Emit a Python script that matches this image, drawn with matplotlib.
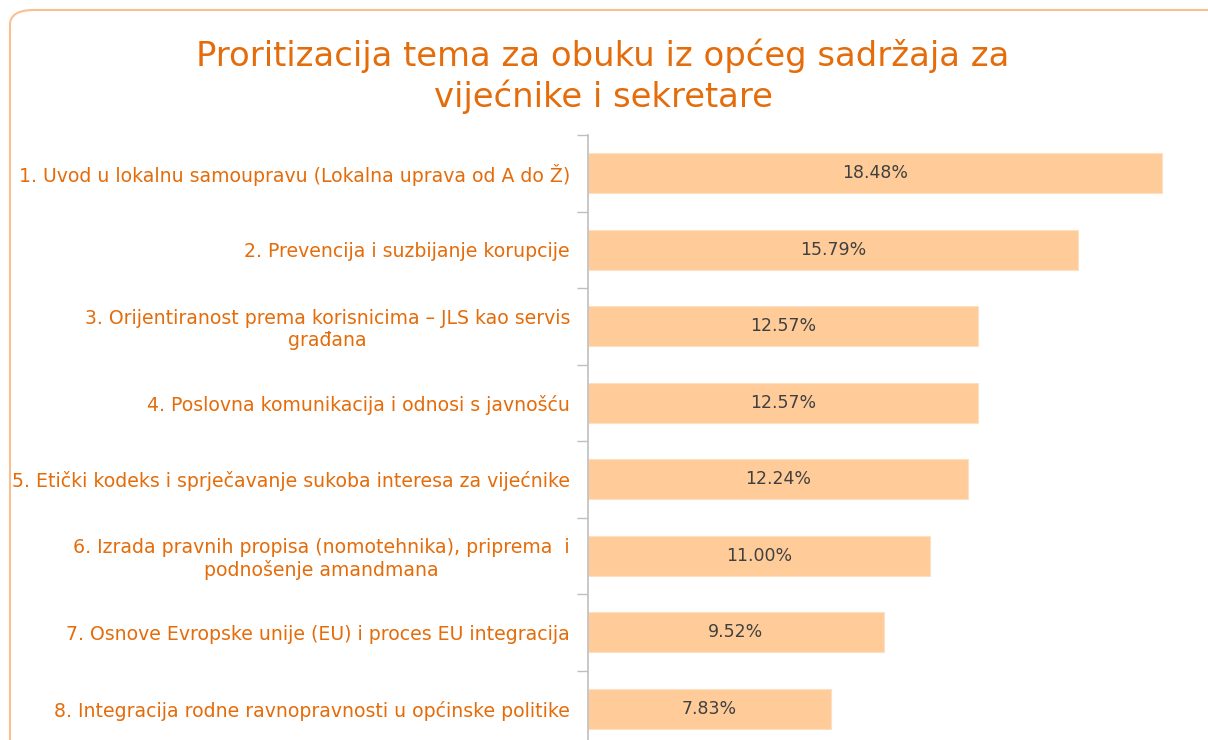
import numpy as np
import matplotlib
matplotlib.use("Agg")
import matplotlib.pyplot as plt
from matplotlib.patches import FancyBboxPatch

# podaci
kategorije = [
    "1. Uvod u lokalnu samoupravu (Lokalna uprava od A do Ž)",
    "2. Prevencija i suzbijanje korupcije",
    "3. Orijentiranost prema korisnicima – JLS kao servis\ngrađana",
    "4. Poslovna komunikacija i odnosi s javnošću",
    "5. Etički kodeks i sprječavanje sukoba interesa za vijećnike",
    "6. Izrada pravnih propisa (nomotehnika), priprema  i\npodnošenje amandmana",
    "7. Osnove Evropske unije (EU) i proces EU integracija",
    "8. Integracija rodne ravnopravnosti u općinske politike",
]
vrijednosti = [18.48, 15.79, 12.57, 12.57, 12.24, 11.00, 9.52, 7.83]
naslov = "Proritizacija tema za obuku iz općeg sadržaja za\nvijećnike i sekretare"

ORANGE = "#E46C0A"
BAR = "#FFCC99"
W, H = 1208, 740

fig = plt.figure(figsize=(W / 100, H / 100), dpi=100)

# okvir (zaobljeni pravokutnik, odsječen desno i dolje)
okvir = FancyBboxPatch((10 / W, -0.2), 1.3, (H - 10) / H + 0.2,
                       boxstyle="round,pad=0,rounding_size=0.02",
                       transform=fig.transFigure, fc="white", ec="#FAC090", lw=1.5,
                       zorder=-5)
fig.patches.append(okvir)

ax = fig.add_axes([588 / W, -7 / H, 620 / W, 612 / H])
y = np.arange(len(vrijednosti))
ax.barh(y, vrijednosti, height=0.52, color=BAR, edgecolor="#FDE0C2", linewidth=0.8)
ax.set_xlim(0, 620 / 31.06)
ax.set_ylim(len(vrijednosti) - 0.5, -0.5)
ax.set_facecolor("none")

for i, v in enumerate(vrijednosti):
    ax.text(v / 2, i, "%.2f%%" % v, ha="center", va="center", fontsize=12.5, color="#404040")

ax.set_yticks(y)
ax.set_yticklabels(kategorije, fontsize=13.6, color=ORANGE, multialignment="center")
ax.tick_params(axis="y", which="major", length=0, pad=13)
ax.set_yticks(np.arange(-0.5, len(vrijednosti), 1), minor=True)
ax.tick_params(axis="y", which="minor", length=8, color="#BFBFBF", width=1)
ax.set_xticks([])
for s in ["top", "right", "bottom"]:
    ax.spines[s].set_visible(False)
ax.spines["left"].set_color("#BFBFBF")
ax.spines["left"].set_linewidth(1.2)

fig.text(603 / W, 1 - 76 / H, naslov, ha="center", va="center", fontsize=24.4,
         color=ORANGE, linespacing=1.22)

fig.savefig("out.png", dpi=100)
